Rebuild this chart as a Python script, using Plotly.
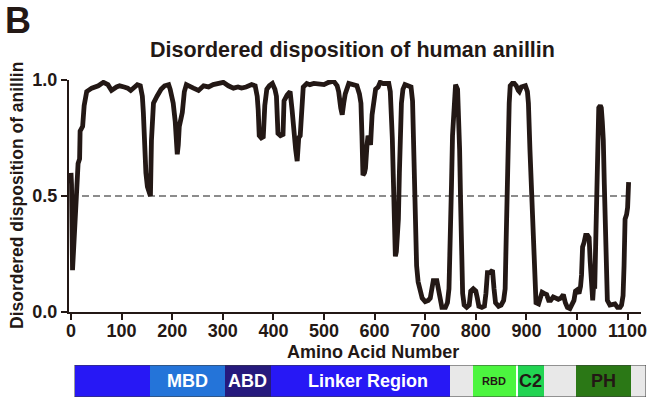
import plotly.graph_objects as go

# ---------------- data ----------------
residue = [0, 1, 3, 5, 8, 12, 14, 17, 18, 23, 26, 31, 41, 54, 64, 73, 80, 90, 96, 105,
           112, 118, 125, 131, 137, 141, 143, 145, 148, 151, 154, 157, 159, 163, 170, 178,
           185, 193, 196, 202, 206, 208, 210, 212, 214, 218, 220, 224, 228, 242, 252, 262,
           272, 281, 291, 301, 311, 321, 330, 337, 346, 357, 364, 368, 370, 372, 376, 380,
           383, 387, 392, 398, 403, 406, 409, 414, 419, 421, 427, 433, 437, 440, 444, 447,
           450, 453, 456, 459, 466, 472, 480, 489, 500, 509, 519, 526, 529, 533, 536, 539,
           542, 549, 556, 565, 570, 573, 575, 577, 580, 582, 585, 587, 590, 592, 595, 598,
           602, 607, 611, 617, 622, 628, 631, 633, 635, 637, 638, 640, 641, 643, 645, 647,
           649, 651, 653, 656, 660, 666, 672, 675, 678, 681, 683, 686, 690, 694, 700, 706,
           710, 713, 716, 723, 726, 729, 733, 740, 744, 747, 750, 752, 754, 757, 760, 764,
           766, 768, 770, 772, 774, 777, 782, 787, 790, 795, 800, 803, 806, 812, 817, 820,
           823, 828, 833, 836, 839, 845, 850, 855, 858, 860, 862, 864, 866, 868, 872, 876,
           880, 884, 886, 890, 894, 898, 902, 904, 907, 910, 913, 916, 919, 924, 928, 931,
           935, 940, 944, 948, 953, 958, 963, 968, 973, 977, 981, 986, 990, 994, 997, 1000,
           1004, 1007, 1009, 1011, 1014, 1017, 1021, 1024, 1026, 1028, 1031, 1033, 1035,
           1037, 1039, 1041, 1043, 1046, 1048, 1050, 1052, 1054, 1056, 1058, 1060, 1065,
           1070, 1075, 1080, 1085, 1088, 1091, 1093, 1095, 1098, 1100, 1102]
disorder = [0.60, 0.55, 0.18, 0.25, 0.37, 0.50, 0.64, 0.66, 0.78, 0.80, 0.89, 0.95, 0.965,
            0.975, 0.99, 0.98, 0.955, 0.97, 0.975, 0.97, 0.965, 0.955, 0.97, 0.98, 0.975,
            0.93, 0.86, 0.73, 0.60, 0.54, 0.52, 0.50, 0.74, 0.90, 0.93, 0.96, 0.975, 0.98,
            0.96, 0.90, 0.82, 0.75, 0.68, 0.72, 0.80, 0.84, 0.86, 0.95, 0.98, 0.965, 0.955,
            0.975, 0.97, 0.98, 0.985, 0.99, 0.975, 0.965, 0.97, 0.965, 0.97, 0.98, 0.975,
            0.93, 0.87, 0.76, 0.75, 0.755, 0.89, 0.96, 0.975, 0.985, 0.96, 0.93, 0.77, 0.76,
            0.765, 0.91, 0.935, 0.95, 0.87, 0.78, 0.70, 0.65, 0.75, 0.76, 0.90, 0.97, 0.985,
            0.98, 0.985, 0.985, 0.98, 0.99, 0.995, 0.975, 0.95, 0.88, 0.85, 0.90, 0.94,
            0.985, 0.98, 0.975, 0.94, 0.90, 0.76, 0.59, 0.60, 0.62, 0.72, 0.76, 0.74, 0.72,
            0.85, 0.92, 0.96, 0.97, 0.99, 0.985, 0.985, 0.985, 0.95, 0.88, 0.75, 0.58, 0.46,
            0.30, 0.24, 0.26, 0.31, 0.40, 0.60, 0.76, 0.90, 0.96, 0.98, 0.975, 0.97, 0.91,
            0.60, 0.40, 0.20, 0.13, 0.09, 0.06, 0.045, 0.05, 0.06, 0.10, 0.135, 0.135, 0.10,
            0.05, 0.02, 0.02, 0.04, 0.10, 0.31, 0.55, 0.76, 0.93, 0.98, 0.96, 0.85, 0.70,
            0.47, 0.25, 0.08, 0.03, 0.02, 0.03, 0.09, 0.10, 0.09, 0.06, 0.025, 0.02, 0.025,
            0.08, 0.17, 0.17, 0.18, 0.10, 0.04, 0.025, 0.03, 0.05, 0.10, 0.31, 0.55, 0.76,
            0.90, 0.975, 0.985, 0.985, 0.975, 0.955, 0.95, 0.97, 0.975, 0.975, 0.95, 0.90,
            0.70, 0.50, 0.31, 0.10, 0.04, 0.035, 0.06, 0.085, 0.08, 0.075, 0.05, 0.05,
            0.065, 0.06, 0.055, 0.06, 0.075, 0.04, 0.02, 0.015, 0.03, 0.05, 0.09, 0.095,
            0.08, 0.11, 0.16, 0.28, 0.30, 0.33, 0.33, 0.32, 0.22, 0.15, 0.05, 0.12, 0.10,
            0.30, 0.60, 0.85, 0.88, 0.89, 0.88, 0.82, 0.74, 0.55, 0.31, 0.12, 0.05, 0.03,
            0.03, 0.035, 0.02, 0.02, 0.03, 0.07, 0.20, 0.40, 0.42, 0.45, 0.56]

threshold_x = [0, 1100]
threshold_y = [0.5, 0.5]

x_ticks = [0, 100, 200, 300, 400, 500, 600, 700, 800, 900, 1000, 1100]
y_ticks = [0.0, 0.5, 1.0]
y_tick_labels = ["0.0", "0.5", "1.0"]

# domain schematic (start, end in residue units, schematic)
domain_names = ["", "MBD", "ABD", "Linker Region", "", "RBD", "C2", "", "PH", ""]
domain_start = [7, 155, 304, 395, 748, 794, 883, 933, 997, 1106]
domain_end = [155, 304, 395, 748, 794, 879, 933, 997, 1106, 1136]
domain_colors = ["#2718F5", "#2474D9", "#261A7D", "#2718F5", "#E8E8E8",
                 "#4CF53F", "#22D452", "#E8E8E8", "#2B7816", "#E8E8E8"]
label_colors = ["#ffffff", "#ffffff", "#ffffff", "#ffffff", "#231815",
                "#231815", "#231815", "#231815", "#231815", "#231815"]
label_sizes = [18, 18, 18, 18, 18, 11, 18, 18, 18, 18]

# ---------------- figure ----------------
W, H = 652, 398
INK = "#231815"
FONT = "Liberation Sans, Arial, sans-serif"

fig = go.Figure()

fig.add_trace(go.Scatter(x=threshold_x, y=threshold_y, mode="lines",
                         line=dict(color="#8C8C8C", width=2, dash="7px,4px"),
                         hoverinfo="skip", showlegend=False, xaxis="x", yaxis="y"))
fig.add_trace(go.Scatter(x=residue, y=disorder, mode="lines",
                         line=dict(color=INK, width=4.8, shape="linear"),
                         showlegend=False, xaxis="x", yaxis="y"))

# domain bar as horizontal stacked segments
lengths = [e - s for s, e in zip(domain_start, domain_end)]
fig.add_trace(go.Bar(orientation="h", base=domain_start, x=lengths,
                     y=[0] * len(lengths), width=1,
                     marker=dict(color=domain_colors, line=dict(width=0)),
                     showlegend=False, hoverinfo="skip",
                     xaxis="x2", yaxis="y2"))

px_per_res = 0.506
x0_px, ax_left, ax_right = 71, 69, 641
xr = [-(x0_px - ax_left) / px_per_res, (ax_right - x0_px) / px_per_res]

fig.update_layout(
    width=W, height=H,
    margin=dict(l=0, r=0, t=0, b=0, autoexpand=False),
    paper_bgcolor="white", plot_bgcolor="white",
    font=dict(family=FONT, color=INK),
    xaxis=dict(domain=[ax_left / W, ax_right / W], range=xr,
               tickvals=x_ticks, ticks="outside", ticklen=6, tickwidth=2,
               tickcolor=INK, showline=True, linecolor=INK, linewidth=2,
               showgrid=False, zeroline=False, automargin=False,
               ticklabelstandoff=-5,
               tickfont=dict(family=FONT, size=18, color=INK, weight="bold"),
               anchor="y"),
    yaxis=dict(domain=[(H - 312) / H, (H - 80) / H], range=[0, 1.0],
               tickvals=y_ticks, ticktext=y_tick_labels, ticks="outside",
               ticklen=6, tickwidth=2, tickcolor=INK, showline=True,
               linecolor=INK, linewidth=2, showgrid=False, zeroline=False,
               automargin=False,
               tickfont=dict(family=FONT, size=18, color=INK, weight="bold"),
               anchor="x"),
    xaxis2=dict(domain=[74.5 / W, 646 / W],
                range=[domain_start[0], domain_end[-1]],
                visible=False, anchor="y2", fixedrange=True, automargin=False),
    yaxis2=dict(domain=[(H - 397) / H, (H - 365) / H], range=[-0.5, 0.5],
                visible=False, anchor="x2", fixedrange=True, automargin=False),
    bargap=0,
    showlegend=False,
)

# outline of domain bar
fig.add_shape(type="rect", xref="x2", yref="y2",
              x0=domain_start[0], x1=domain_end[-1], y0=-0.5, y1=0.5,
              line=dict(color="#3a3a3a", width=1), fillcolor="rgba(0,0,0,0)")

# domain labels
for name, s, e, c, sz in zip(domain_names, domain_start, domain_end,
                             label_colors, label_sizes):
    if not name:
        continue
    shift = 8 if name == "Linker Region" else 0
    fig.add_annotation(x=(s + e) / 2, y=0, xref="x2", yref="y2", text=name,
                       showarrow=False, xshift=shift,
                       font=dict(family=FONT, size=sz, color=c, weight="bold"))

# titles / labels
fig.add_annotation(x=3 / W, y=1 - 20 / H, xref="paper", yref="paper",
                   text="B", showarrow=False, xanchor="left", yanchor="middle",
                   font=dict(family=FONT, size=36, color=INK, weight="bold"))
fig.add_annotation(x=352.5 / W, y=1 - 50 / H, xref="paper", yref="paper",
                   text="Disordered disposition of human anillin", showarrow=False,
                   xanchor="center", yanchor="middle",
                   font=dict(family=FONT, size=21.5, color=INK, weight="bold"))
fig.add_annotation(x=17 / W, y=1 - 196 / H, xref="paper", yref="paper",
                   text="Disordered disposition of anillin", showarrow=False,
                   textangle=-90, xanchor="center", yanchor="middle",
                   font=dict(family=FONT, size=17.5, color=INK, weight="bold"))
fig.add_annotation(x=373 / W, y=1 - 352 / H, xref="paper", yref="paper",
                   text="Amino Acid Number", showarrow=False,
                   xanchor="center", yanchor="middle",
                   font=dict(family=FONT, size=18, color=INK, weight="bold"))

fig.write_html("out.html", config={"displayModeBar": False},
               post_script="document.body.style.margin='0px';")
